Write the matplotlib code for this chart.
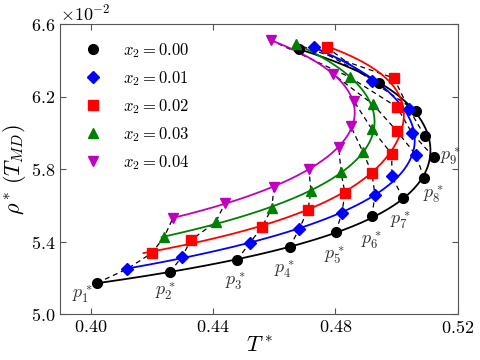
import numpy as np
import matplotlib
matplotlib.use("Agg")
import matplotlib.pyplot as plt

plt.rcParams["font.family"] = "serif"
plt.rcParams["font.serif"] = ["cmr10"]
plt.rcParams["mathtext.fontset"] = "cm"
plt.rcParams["axes.formatter.use_mathtext"] = True
plt.rcParams["axes.unicode_minus"] = False

# TMD points: T* and rho* (x 1e-2)
T_00 = [0.4021, 0.4259, 0.4478, 0.4651, 0.4801, 0.4919, 0.5020, 0.5089, 0.5121,
        0.5092, 0.5063, 0.4942, 0.4681]
rho_00 = [5.173, 5.233, 5.300, 5.371, 5.454, 5.542, 5.642, 5.752, 5.868,
          5.984, 6.122, 6.276, 6.464]

T_01 = [0.4119, 0.4298, 0.4520, 0.4681, 0.4821, 0.4929, 0.4984, 0.5063, 0.5050,
        0.5040, 0.4919, 0.4730]
rho_01 = [5.250, 5.316, 5.393, 5.471, 5.559, 5.658, 5.763, 5.879, 6.000,
          6.133, 6.287, 6.475]

T_02 = [0.4200, 0.4328, 0.4560, 0.4710, 0.4831, 0.4919, 0.4984, 0.5001, 0.5001,
        0.4991, 0.4772]
rho_02 = [5.338, 5.410, 5.482, 5.575, 5.669, 5.780, 5.884, 6.011, 6.144,
          6.304, 6.475]

T_03 = [0.4240, 0.4409, 0.4592, 0.4720, 0.4818, 0.4890, 0.4919, 0.4922, 0.4847,
        0.4671]
rho_03 = [5.426, 5.509, 5.586, 5.680, 5.785, 5.895, 6.022, 6.160, 6.309, 6.491]

T_04 = [0.4269, 0.4439, 0.4599, 0.4713, 0.4811, 0.4850, 0.4860, 0.4792, 0.4589]
rho_04 = [5.531, 5.614, 5.702, 5.802, 5.923, 6.039, 6.177, 6.326, 6.513]

labels = ["$x_2 = 0.00$", "$x_2 = 0.01$", "$x_2 = 0.02$", "$x_2 = 0.03$", "$x_2 = 0.04$"]
p_labels = ["$p_{%d}^*$" % (i + 1) for i in range(9)]

series = [(T_00, rho_00, "k", "o", 7),
          (T_01, rho_01, "b", "D", 6.5),
          (T_02, rho_02, "r", "s", 6.5),
          (T_03, rho_03, "g", "^", 7.5),
          (T_04, rho_04, "m", "v", 7.5)]

fig = plt.figure(figsize=(4.8, 3.6), dpi=100)
ax = fig.add_axes([0.125, 0.127, 0.829, 0.805])

# isobars: dashed lines joining the i-th point of each composition
n_max = max(len(s[0]) for s in series)
for i in range(n_max):
    xs = [s[0][i] for s in series if i < len(s[0])]
    ys = [s[1][i] * 1e-2 for s in series if i < len(s[0])]
    if len(xs) > 1:
        ax.plot(xs, ys, "k--", lw=0.9, dashes=(4, 3), zorder=1)

for (T, rho, c, m, ms), lab in zip(series, labels):
    T = np.array(T)
    rho = np.array(rho)
    coef = np.polyfit(rho, T, 4)
    rr = np.linspace(rho.min(), rho.max(), 200)
    ax.plot(np.polyval(coef, rr), rr * 1e-2, "-", color=c, lw=1.3, zorder=2)
    ax.plot(T, rho * 1e-2, m, color=c, ms=ms, mec=c, ls="none", label=lab, zorder=3)

offsets = [(-15, 11), (-5, 19), (-2, 21), (-6, 22), (-2, 23), (-1, 24), (-3, 22), (9, 16), (17, -1)]
for i, lab in enumerate(p_labels):
    ax.annotate(lab, (T_00[i], rho_00[i] * 1e-2), textcoords="offset pixels",
                xytext=(offsets[i][0], -offsets[i][1]), ha="center", va="center",
                fontsize=13, color="#333333")

ax.set_xlim(0.39, 0.52)
ax.set_ylim(0.050, 0.066)
ax.set_xticks([0.40, 0.44, 0.48, 0.52])
ax.set_yticks([0.050, 0.054, 0.058, 0.062, 0.066])
ax.ticklabel_format(axis="y", style="sci", scilimits=(-2, -2))
ax.tick_params(direction="in", top=True, right=True, labelsize=13, length=4, color="#555555")
ax.yaxis.get_offset_text().set_fontsize(13)
for sp in ax.spines.values():
    sp.set_color("#555555")

ax.set_xlabel("$T^*$", fontsize=16, labelpad=0)
ax.set_ylabel(r"$\rho^*\,(T_{MD})$", fontsize=16, labelpad=2)

ax.legend(loc="upper left", frameon=False, numpoints=1, fontsize=12,
          labelspacing=0.55, handletextpad=0.8, borderaxespad=0.6)

fig.savefig("out.png", dpi=100)
